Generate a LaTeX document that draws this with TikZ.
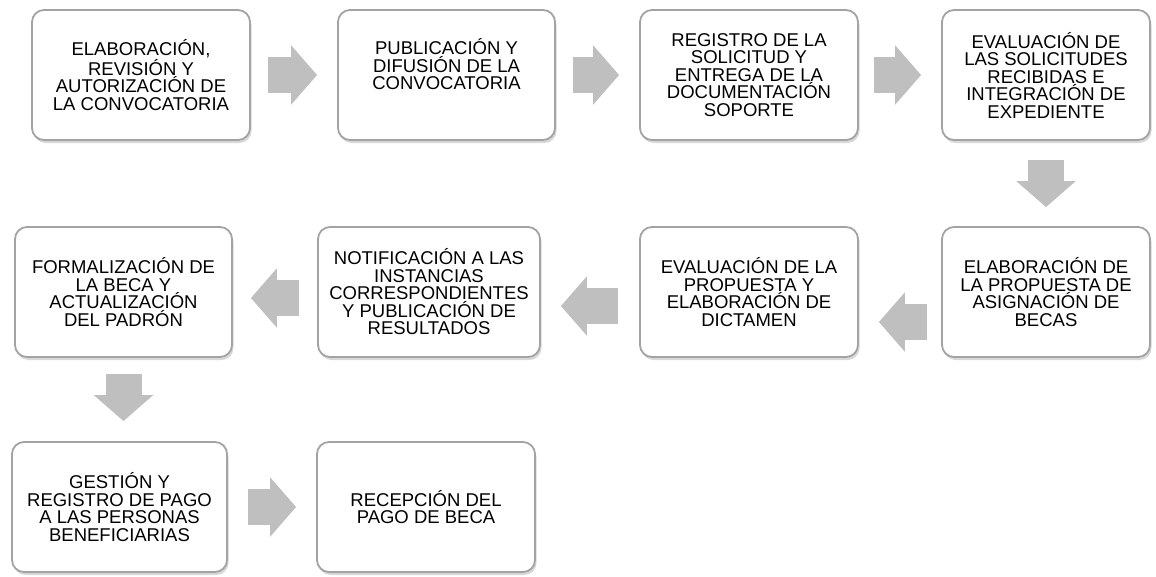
\documentclass[tikz,border=0pt]{standalone}
\usepackage{fontspec}
\setmainfont{Liberation Sans}
\usetikzlibrary{arrows.meta,shadows}
\definecolor{boxline}{HTML}{A3A3A3}
\definecolor{arrowgray}{HTML}{BFBFBF}

\begin{document}
\begin{tikzpicture}[x=1pt, y=-1pt,
  paso/.style={draw=boxline, line width=1.8pt, fill=white, rounded corners=12pt, align=center, inner sep=2pt, minimum height=130pt, font=\fontsize{18.5}{17.5}\selectfont, drop shadow={shadow xshift=1.5pt, shadow yshift=-3pt, fill=black!30}},
  flecha/.style={arrowgray, line width=36pt, -{Triangle[length=26pt, width=58pt]}}]
  \useasboundingbox (0,0) rectangle (1156,576);

  \node[paso, minimum width=218pt] (b1) at (141, 75) {ELABORACIÓN,\\REVISIÓN Y\\AUTORIZACIÓN DE\\LA CONVOCATORIA};
  \node[paso, minimum width=217pt, text depth=22pt] (b2) at (446.5, 75) {PUBLICACIÓN Y\\DIFUSIÓN DE LA\\CONVOCATORIA};
  \node[paso, minimum width=218pt] (b3) at (749, 75) {REGISTRO DE LA\\SOLICITUD Y\\ENTREGA DE LA\\DOCUMENTACIÓN\\SOPORTE};
  \node[paso, minimum width=208pt] (b4) at (1046, 75) {EVALUACIÓN DE\\LAS SOLICITUDES\\RECIBIDAS E\\INTEGRACIÓN DE\\EXPEDIENTE};

  \node[paso, minimum width=208pt] (b5) at (1046, 292) {ELABORACIÓN DE\\LA PROPUESTA DE\\ASIGNACIÓN DE\\BECAS};
  \node[paso, minimum width=218pt] (b6) at (749, 292) {EVALUACIÓN DE LA\\PROPUESTA Y\\ELABORACIÓN DE\\DICTAMEN};
  \node[paso, minimum width=222pt] (b7) at (429, 292) {NOTIFICACIÓN A LAS\\INSTANCIAS\\CORRESPONDIENTES\\Y PUBLICACIÓN DE\\RESULTADOS};
  \node[paso, minimum width=217pt] (b8) at (123.5, 292) {FORMALIZACIÓN DE\\LA BECA Y\\ACTUALIZACIÓN\\DEL PADRÓN};

  \node[paso, minimum width=215pt] (b9) at (119.5, 507) {GESTIÓN Y\\REGISTRO DE PAGO\\A LAS PERSONAS\\BENEFICIARIAS};
  \node[paso, minimum width=218pt] (b10) at (426, 507) {RECEPCIÓN DEL\\PAGO DE BECA};

  \draw[flecha, shorten <=17pt, shorten >=20pt] (b1) -- (b2);
  \draw[flecha, shorten <=17pt, shorten >=20pt] (b2) -- (b3);
  \draw[flecha, shorten <=15pt, shorten >=20pt] (b3) -- (b4);
  \draw[flecha, shorten <=19pt, shorten >=19pt] (b4) -- (b5);
  \draw[flecha, shorten <=14pt, shorten >=20pt] ([yshift=-30pt]b5.west) -- ([yshift=-30pt]b6.east);
  \draw[flecha, shorten <=21pt, shorten >=20pt] ([yshift=-14pt]b6.west) -- ([yshift=-14pt]b7.east);
  \draw[flecha, shorten <=18pt, shorten >=18pt] ([yshift=-6pt]b7.west) -- ([yshift=-6pt]b8.east);
  \draw[flecha, shorten <=16pt, shorten >=20pt] (b8.south) -- (b8.south |- b9.north);
  \draw[flecha, shorten <=20pt, shorten >=20pt] (b9) -- (b10);
\end{tikzpicture}
\end{document}
